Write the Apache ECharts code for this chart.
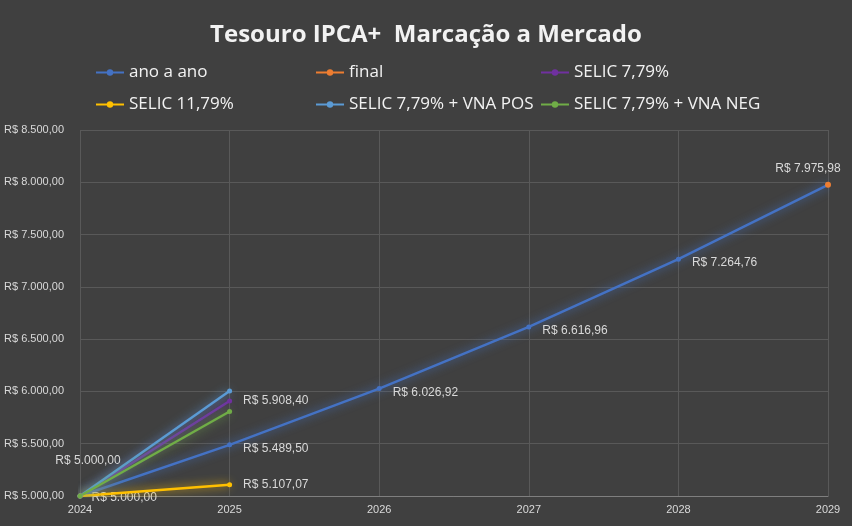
<!DOCTYPE html>
<html><head><meta charset="utf-8">
<script src="https://cdn.jsdelivr.net/npm/echarts@6/dist/echarts.min.js"></script>
<style>body{margin:0;background:#404040}#c{width:852px;height:526px}</style></head>
<body><div id="c"></div>
<script>
const years = [2024, 2025, 2026, 2027, 2028, 2029];
const anoAno = [5000.00, 5489.50, 6026.92, 6616.96, 7264.76, 7975.98];
const finalV = [[2029, 7975.98]];
const selic779 = [5000.00, 5908.40];
const selic1179 = [5000.00, 5107.07];
const vnaPos = [5000.00, 6005];
const vnaNeg = [5000.00, 5808];
const names = ['ano a ano','final','SELIC 7,79%','SELIC 11,79%','SELIC 7,79% + VNA POS','SELIC 7,79% + VNA NEG'];
const colors = ['#4472c4','#ed7d31','#7030a0','#ffc000','#5b9bd5','#70ad47'];
const fmt = v => 'R$ ' + v.toFixed(2).replace('.', ',').replace(/\B(?=(\d{3})+(?!\d))/g, '.');
const pair = arr => arr.map((v,i)=>[years[i], v]);
function line(i, data, extra){
  return Object.assign({name:names[i], type:'line', data:data, color:colors[i], symbol:'circle', symbolSize:5,
    lineStyle:{width:2.5, shadowBlur:10, shadowColor:colors[i]}, itemStyle:{color:colors[i]}, z: 3}, extra||{});
}
const lbl = {show:true, color:'#d9d9d9', fontSize:12, formatter:p=>fmt(p.value[1])};
const legPos = [[90,59],[310,59],[535,59],[90,91],[310,91],[535,91]];
const chart = echarts.init(document.getElementById('c'));
chart.setOption({
  backgroundColor:'#404040',
  title:{text:'Tesouro IPCA+  Marcação a Mercado', left:'center', top:18,
    textStyle:{color:'#f2f2f2', fontSize:24, fontWeight:'bold', fontFamily:'Open Sans'}},
  legend: names.map((n,i)=>({data:[n], left:legPos[i][0], top:legPos[i][1], itemWidth:28, itemHeight:8, itemGap:4,
     textStyle:{color:'#f2f2f2', fontSize:17, fontFamily:'Open Sans'}})),
  grid:{left:80, right:24, top:130, bottom:30},
  xAxis:{type:'value', min:2024, max:2029, interval:1,
    axisLabel:{color:'#d9d9d9', fontSize:11, formatter:v=>String(v)},
    axisLine:{lineStyle:{color:'#7f7f7f'}}, axisTick:{show:false},
    splitLine:{show:true, lineStyle:{color:'#595959'}}},
  yAxis:{type:'value', min:5000, max:8500, interval:500,
    axisLabel:{color:'#d9d9d9', fontSize:11, formatter:v=>fmt(v), margin:16},
    axisLine:{show:false}, axisTick:{show:false},
    splitLine:{lineStyle:{color:'#595959'}}},
  series:[
    line(0, pair(anoAno).map((d,i)=>({value:d, label: i===0 ? {position:'right', offset:[4,2]} : (i===5?{show:false}:{})})),
      {z:2, label:Object.assign({}, lbl, {position:'right', offset:[6,4]})}),
    line(1, finalV, {symbolSize:6, label:Object.assign({}, lbl, {position:'top', offset:[-20,-2]})}),
    line(2, pair(selic779), {label:Object.assign({}, lbl, {position:'right', offset:[6,0]}),
      data: pair(selic779).map((d,i)=>({value:d, label: i===0?{position:'top', offset:[8,-22]}:{}}))}),
    line(3, pair(selic1179), {label:Object.assign({}, lbl, {position:'right', offset:[6,0], formatter:p=>p.dataIndex===1?fmt(p.value[1]):''})}),
    line(4, pair(vnaPos)),
    line(5, pair(vnaNeg))
  ]
});
</script></body></html>
